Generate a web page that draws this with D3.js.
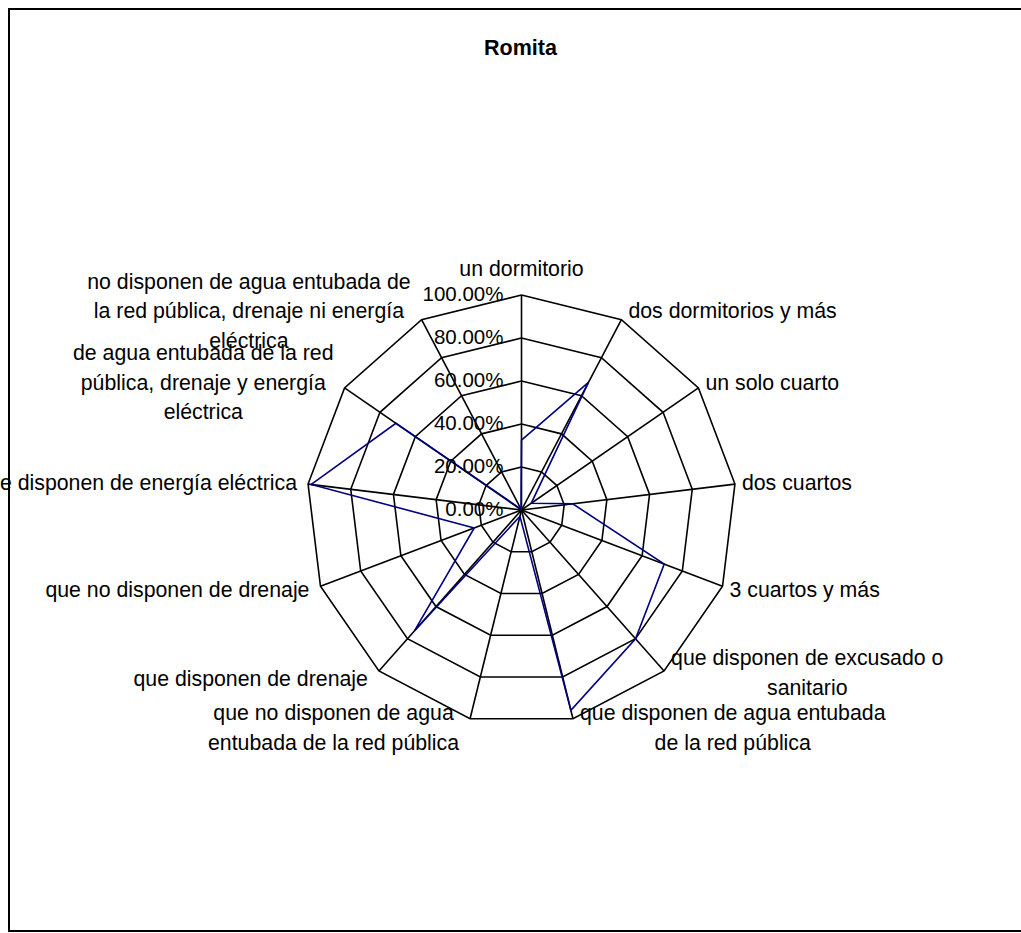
<!DOCTYPE html>
<html>
<head>
<meta charset="utf-8">
<script src="https://cdn.jsdelivr.net/npm/d3@7"></script>
<style>
  html, body { margin: 0; padding: 0; background: #fff; }
  svg { display: block; }
  text { font-family: "Liberation Sans", Arial, sans-serif; fill: #000; }
</style>
</head>
<body>
<svg id="chart" width="1021" height="933"></svg>
<script>
// ---- data ----
const title = "Romita";
const categories = [
  "un dormitorio",
  "dos dormitorios y más",
  "un solo cuarto",
  "dos cuartos",
  "3 cuartos y más",
  "que disponen de excusado o sanitario",
  "que disponen de agua entubada de la red pública",
  "que no disponen de agua entubada de la red pública",
  "que disponen de drenaje",
  "que no disponen de drenaje",
  "que disponen de energía eléctrica",
  "de agua entubada de la red pública, drenaje y energía eléctrica",
  "no disponen de agua entubada de la red pública, drenaje ni energía eléctrica"
];
const categoryLines = [
  ["un dormitorio"],
  ["dos dormitorios y más"],
  ["un solo cuarto"],
  ["dos cuartos"],
  ["3 cuartos y más"],
  ["que disponen de excusado o", "sanitario"],
  ["que disponen de agua entubada", "de la red pública"],
  ["que no disponen de agua", "entubada de la red pública"],
  ["que disponen de drenaje"],
  ["que no disponen de drenaje"],
  ["que disponen de energía eléctrica"],
  ["de agua entubada de la red", "pública, drenaje y energía", "eléctrica"],
  ["no disponen de agua entubada de", "la red pública, drenaje ni energía", "eléctrica"]
];
const values = [32.5, 67, 5.5, 24, 71, 80, 96, 3, 75, 23.5, 98.5, 71, 0.5];
const tickValues = [0, 20, 40, 60, 80, 100];
const tickLabels = ["0.00%", "20.00%", "40.00%", "60.00%", "80.00%", "100.00%"];

// ---- layout ----
const svg = d3.select("#chart");
const cx = 521.5, cy = 510, R = 215;
const fontSize = 21.3, lineH = 29.5;
const n = categories.length;
// small vertical nudges for label blocks (layout only)
const labelNudge = {5: -6, 7: -1, 6: -1};

const angle = d3.scaleLinear().domain([0, n]).range([0, 2 * Math.PI]);
const rScale = d3.scaleLinear().domain([0, 100]).range([0, R]);
const pt = (i, v) => [cx + rScale(v) * Math.sin(angle(i)), cy - rScale(v) * Math.cos(angle(i))];

const g = svg.append("g");

// rings
const ringLine = d3.line();
tickValues.filter(t => t > 0).forEach(t => {
  const pts = d3.range(n).map(i => pt(i, t));
  pts.push(pts[0]);
  g.append("path").attr("d", ringLine(pts))
    .attr("fill", "none").attr("stroke", "#000").attr("stroke-width", 1.6);
});
// spokes
d3.range(n).forEach(i => {
  const [x, y] = pt(i, 100);
  g.append("line").attr("x1", cx).attr("y1", cy).attr("x2", x).attr("y2", y)
    .attr("stroke", "#000").attr("stroke-width", 1.6);
});

// data
const radial = d3.lineRadial()
  .angle((d, i) => angle(i))
  .radius(d => rScale(d))
  .curve(d3.curveLinearClosed);
g.append("path").attr("transform", `translate(${cx},${cy})`)
  .attr("d", radial(values))
  .attr("fill", "none").attr("stroke", "#000080").attr("stroke-width", 1.6);

// category labels
d3.range(n).forEach(i => {
  const a = angle(i);
  const [vx, vy] = pt(i, 100);
  const s = Math.sin(a), c = Math.cos(a);
  const lines = categoryLines[i];
  const t = g.append("text").attr("font-size", fontSize).attr("text-anchor", "middle");
  const spans = lines.map((l, k) => t.append("tspan").text(l));
  const widths = spans.map(sp => sp.node().getComputedTextLength());
  const w = d3.max(widths);
  const h = lines.length * lineH;
  let bx, byc;
  if (Math.abs(s) < 0.05) {
    bx = vx;
    byc = vy - 12 - h / 2 + (c < 0 ? 24 + h : 0);
  } else if (s > 0) {
    bx = vx + 7 + w / 2;
    byc = vy - 10 * c;
  } else {
    bx = vx - 11 - w / 2;
    byc = vy - 10 * c;
  }
  byc += (labelNudge[i] || 0);
  spans.forEach((sp, k) => {
    sp.attr("x", bx).attr("y", byc - h / 2 + lineH * (k + 0.5) + fontSize * 0.35);
  });
});

// tick labels
tickValues.forEach((t, k) => {
  const [, y] = pt(0, t);
  g.append("text").attr("x", cx - 18).attr("y", y - 1.5 + 20.5 * 0.35)
    .attr("text-anchor", "end").attr("font-size", 20.5).text(tickLabels[k]);
});

// title
svg.append("text").attr("x", 520.5).attr("y", 55).attr("text-anchor", "middle")
  .attr("font-size", 21.5).attr("font-weight", "bold").text(title);

// frame
svg.append("rect").attr("x", 9).attr("y", 9).attr("width", 1030).attr("height", 922)
  .attr("fill", "none").attr("stroke", "#000").attr("stroke-width", 2);
</script>
</body>
</html>
